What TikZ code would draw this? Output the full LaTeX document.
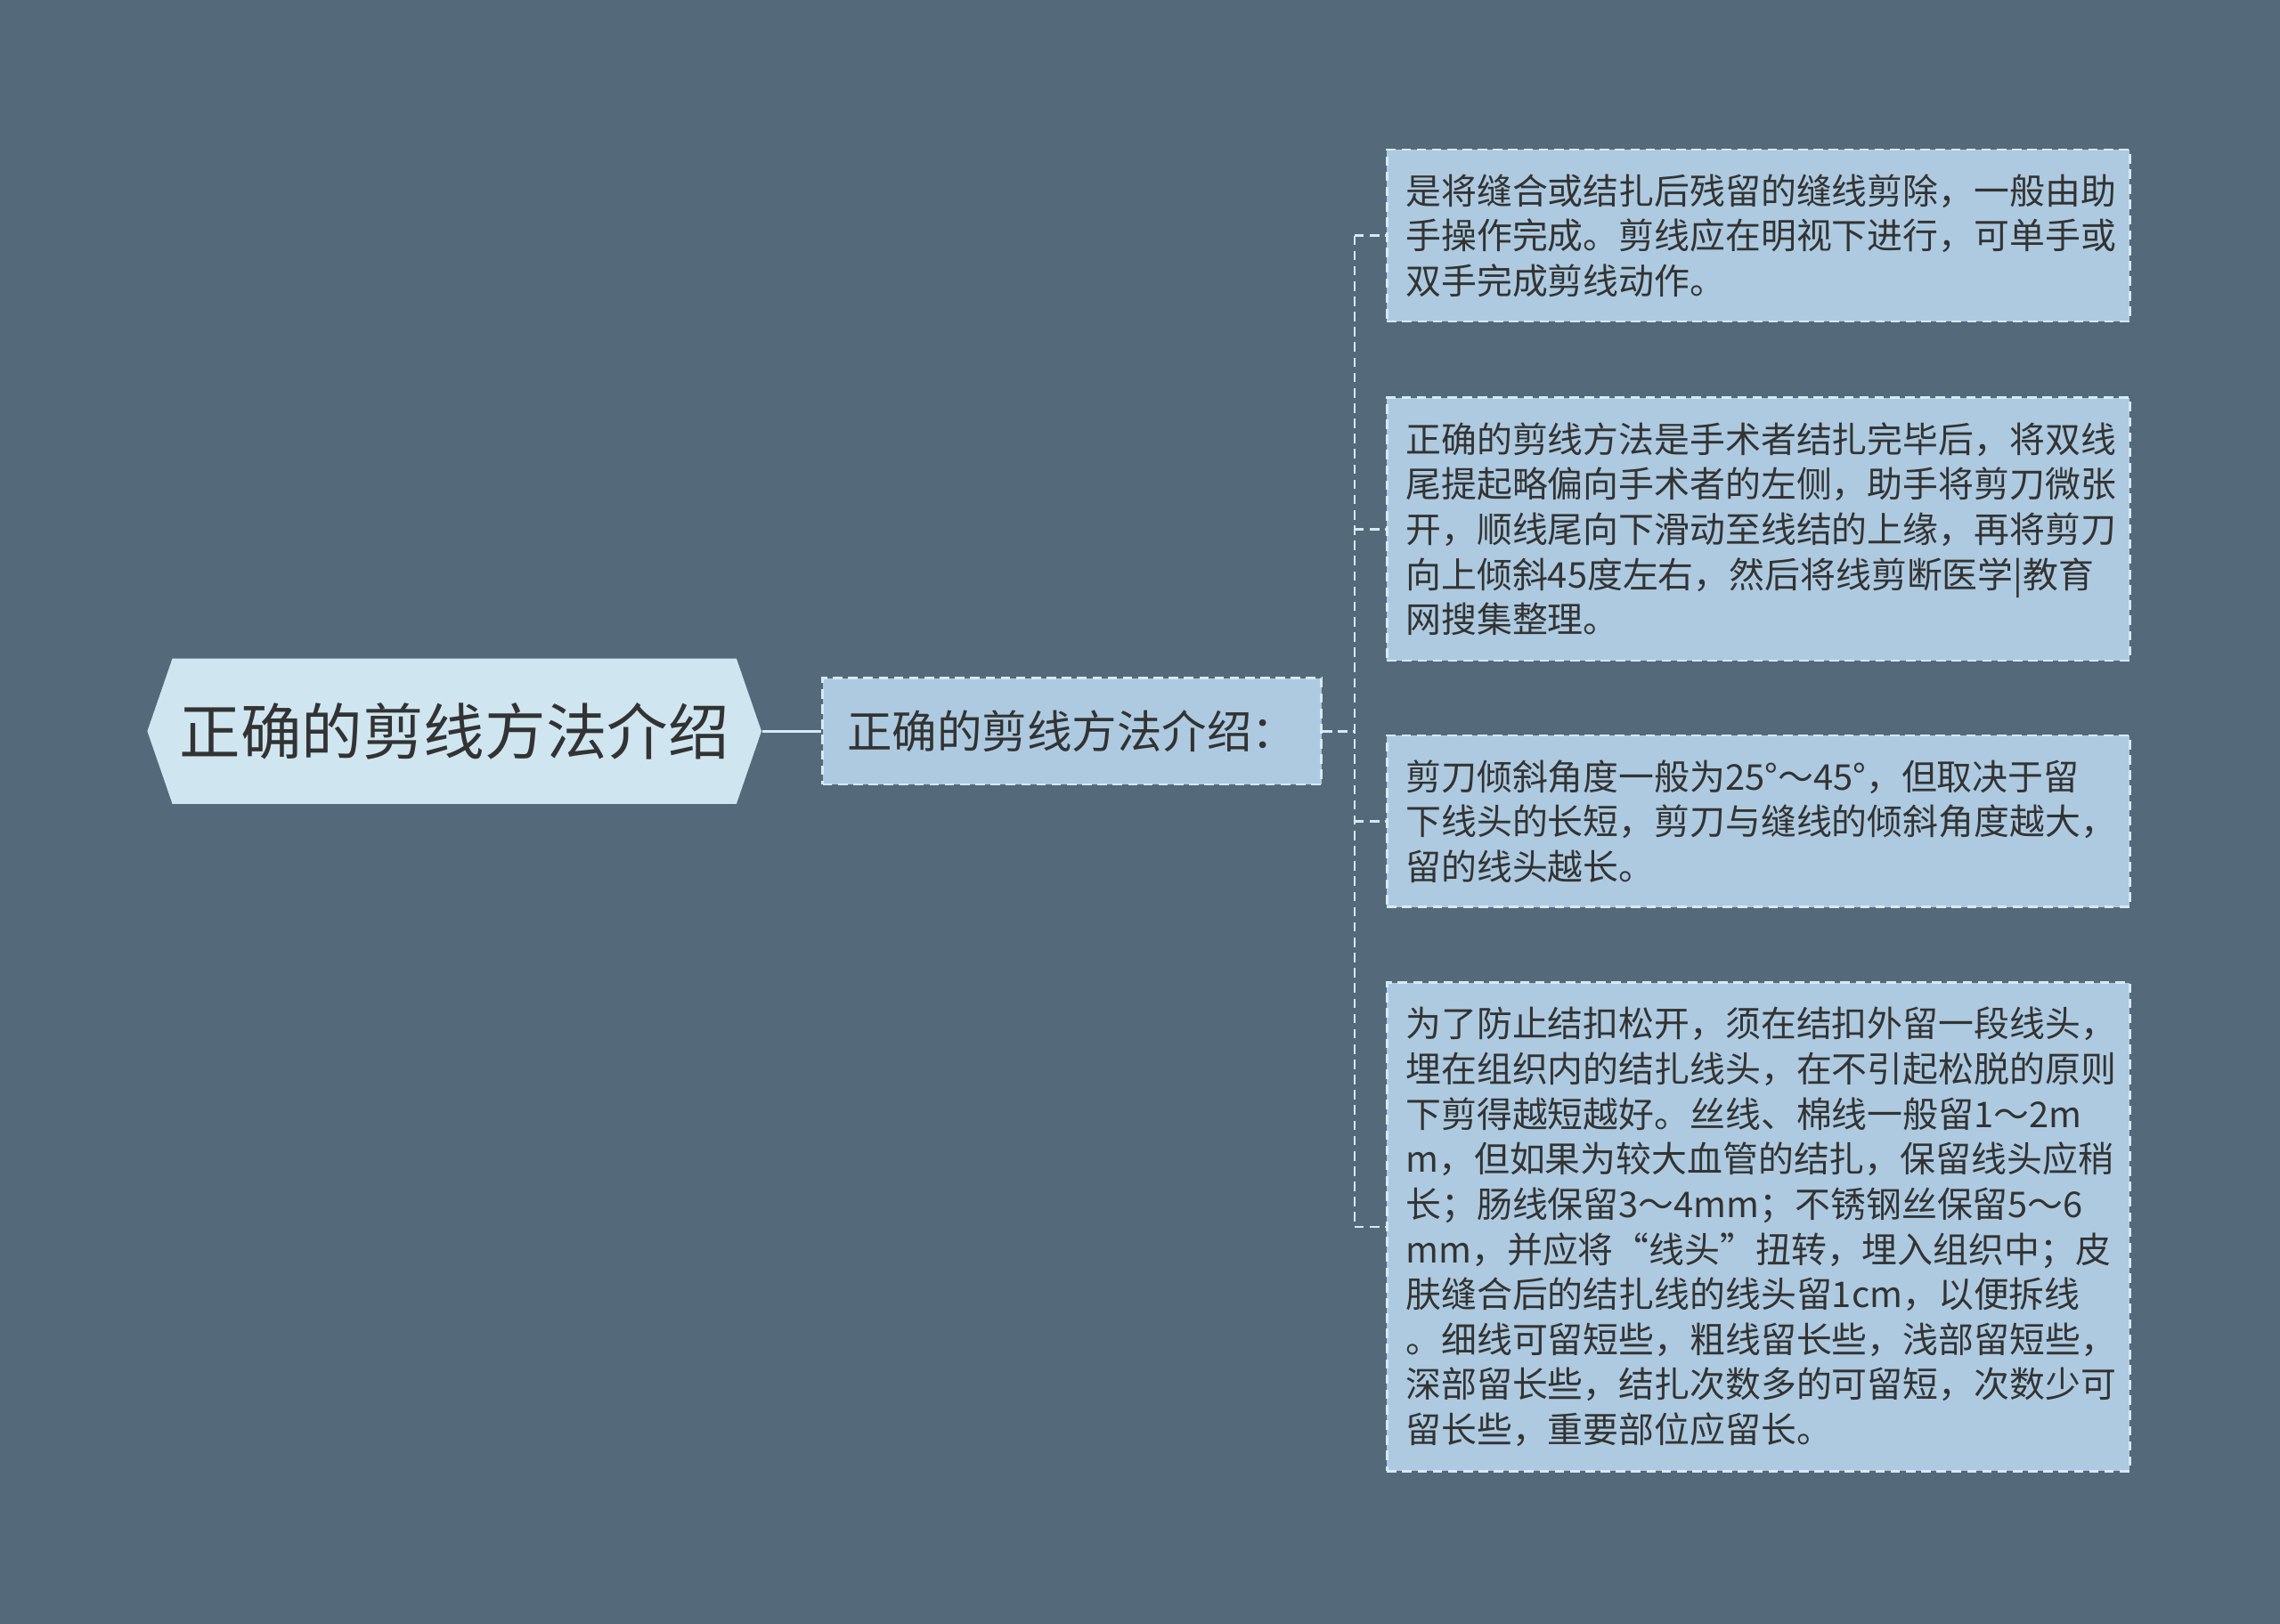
\documentclass[tikz,border=0pt]{standalone}
\usepackage{fontspec}
\setmainfont{Noto Sans CJK SC}
\usetikzlibrary{positioning,shapes.symbols}
\definecolor{bgslate}{RGB}{84,106,122}
\definecolor{rootfill}{RGB}{207,230,241}
\definecolor{boxfill}{RGB}{173,202,224}
\definecolor{boxline}{RGB}{214,234,246}
\definecolor{inkdark}{RGB}{51,51,51}
\tikzset{
  rootnode/.style={
    signal,
    signal to=west and east,
    signal pointer angle=142,
    fill=rootfill,
    text=inkdark,
    minimum height=2cm,
    inner xsep=0.1cm,
    font=\fontsize{23.9pt}{28pt}\selectfont},
  topicbox/.style={
    rectangle,
    fill=boxfill,
    draw=boxline, line width=0.9pt,
    dash pattern=on 0.13cm off 0.08cm,
    text=inkdark,
    minimum width=6.86cm,
    minimum height=1.46cm,
    font=\fontsize{17.6pt}{20pt}\selectfont},
  leafbox/.style={
    rectangle,
    fill=boxfill,
    draw=boxline, line width=0.9pt,
    dash pattern=on 0.13cm off 0.08cm,
    text=inkdark,
    text width=9.7cm,
    align=left,
    inner xsep=0.26cm,
    anchor=west,
    font=\fontsize{13.9pt}{17.65pt}\selectfont},
  link/.style={draw=boxline, line width=1.2pt},
  dashlink/.style={draw=boxline, line width=0.9pt, dash pattern=on 0.13cm off 0.08cm},
}
\begin{document}
\begin{tikzpicture}[x=0.02cm, y=-0.02cm]
		\fill[bgslate] (0,0) rectangle (1568,1117);
		\node[rootnode] (root) at (312.5,503) {正确的剪线方法介绍};
		\node[topicbox, anchor=west] (topic) at (565,503) {正确的剪线方法介绍：};
		\node[leafbox, minimum height=2.36cm] (leafa) at (953,162) {是将缝合或结扎后残留的缝线剪除，一般由助\\手操作完成。剪线应在明视下进行，可单手或\\双手完成剪线动作。};
		\node[leafbox, minimum height=3.62cm] (leafb) at (953,364) {正确的剪线方法是手术者结扎完毕后，将双线\\尾提起略偏向手术者的左侧，助手将剪刀微张\\开，顺线尾向下滑动至线结的上缘，再将剪刀\\向上倾斜45度左右，然后将线剪断医学|教育\\网搜集整理。};
		\node[leafbox, minimum height=2.36cm] (leafc) at (953,565) {剪刀倾斜角度一般为25°～45°，但取决于留\\下线头的长短，剪刀与缝线的倾斜角度越大，\\留的线头越长。};
		\node[leafbox, minimum height=6.72cm] (leafd) at (953,844) {为了防止结扣松开，须在结扣外留一段线头，\\埋在组织内的结扎线头，在不引起松脱的原则\\下剪得越短越好。丝线、棉线一般留1～2m\\m，但如果为较大血管的结扎，保留线头应稍\\长；肠线保留3～4mm；不锈钢丝保留5～6\\mm，并应将“线头”扭转，埋入组织中；皮\\肤缝合后的结扎线的线头留1cm，以便拆线\\。细线可留短些，粗线留长些，浅部留短些，\\深部留长些，结扎次数多的可留短，次数少可\\留长些，重要部位应留长。};
		\draw[link] (root.east) -- (topic.west);
		\coordinate (fork) at ([xshift=0.44cm]topic.east);
		\draw[dashlink] (topic.east) -- (fork);
		\draw[dashlink] (fork |- leafa.west) -- (fork |- leafd.west);
		\foreach \leaf in {leafa,leafb,leafc,leafd}
			\draw[dashlink] (fork |- \leaf.west) -- (\leaf.west);
	\end{tikzpicture}
\end{document}
